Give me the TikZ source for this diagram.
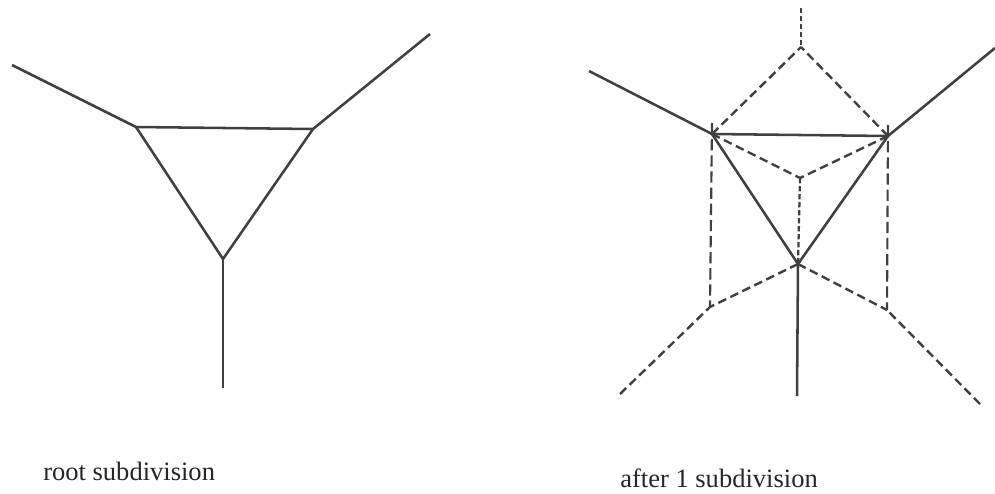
\documentclass[tikz,border=0pt]{standalone}
\usepackage{fontspec}
\setmainfont{Liberation Serif}
\tikzset{
  solidedge/.style={draw=black!75,line width=1.9pt},
  dashedge/.style={draw=black!75,line width=1.8pt,dash pattern=on 6.5pt off 3.5pt},
  longdash/.style={draw=black!75,line width=1.6pt,dash pattern=on 8.5pt off 3.6pt},
  fineedge/.style={draw=black!75,line width=1.7pt,dash pattern=on 4pt off 2pt},
  caption/.style={font=\fontsize{19.9pt}{22pt}\selectfont,text=black!85,anchor=base west,inner sep=0pt}
}
\begin{document}
\begin{tikzpicture}[x=0.75pt,y=-0.75pt]
\useasboundingbox (0,0) rectangle (995,493);
% left figure
\coordinate (la) at (12,65);
\coordinate (lb) at (136,127);
\coordinate (lc) at (313,129);
\coordinate (ld) at (430,34);
\coordinate (le) at (223,259);
\coordinate (lf) at (223,388);
\draw[solidedge] (la)--(lb)--(lc)--(ld);
\draw[solidedge] (lb)--(le)--(lc);
\draw[solidedge] (le)--(lf);
% right figure
\coordinate (ra) at (589,71);
\coordinate (rb) at (712,134);
\coordinate (rc) at (888,136);
\coordinate (rd) at (995,48);
\coordinate (re) at (798,264);
\coordinate (rf) at (797,396);
\coordinate (top) at (801,8);
\coordinate (apex) at (801,47);
\coordinate (mid) at (800,178);
\coordinate (bl) at (710,307);
\coordinate (br) at (887,310);
\coordinate (el) at (620,394);
\coordinate (er) at (980,404);
\coordinate (rbt) at (712,123);
\coordinate (rct) at (888,125);
\draw[solidedge] (ra)--(rb)--(rc)--(rd);
\draw[solidedge] (rb)--(re)--(rc);
\draw[solidedge] (re)--(rf);
\draw[dashedge] (rb)--(apex);
\draw[dashedge] (rc)--(apex);
\draw[fineedge] (top)--(apex);
\draw[dashedge] (rb)--(mid);
\draw[dashedge] (rc)--(mid);
\draw[fineedge] (mid)--(re);
\draw[longdash] (rbt)--(bl);
\draw[longdash] (rct)--(br);
\draw[dashedge] (re)--(bl);
\draw[dashedge] (re)--(br);
\draw[dashedge] (el)--(bl);
\draw[dashedge] (er)--(br);
% captions
\node[caption] (c1) at (43,480) {root subdivision};
\node[caption] (c2) at (620,487) {after 1 subdivision};
\end{tikzpicture}
\end{document}
